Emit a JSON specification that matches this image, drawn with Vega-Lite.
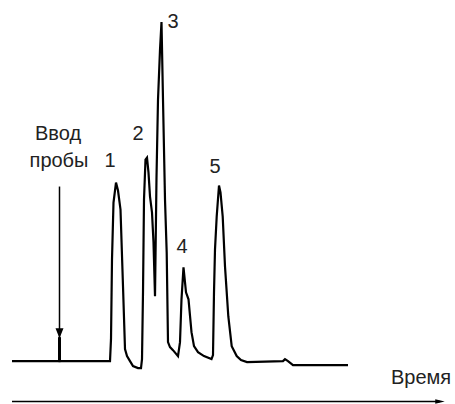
{
  "$schema": "https://vega.github.io/schema/vega-lite/v6.json",
  "width": 455,
  "height": 404,
  "autosize": {"type": "fit", "contains": "padding"},
  "padding": 0,
  "background": "white",
  "config": {"view": {"stroke": null}},
  "datasets": {
    "trace": [
      {"t": 12, "s": 1}, {"t": 60, "s": 1}, {"t": 110, "s": 1},
      {"t": 111, "s": 23}, {"t": 112, "s": 103}, {"t": 113.5, "s": 160}, {"t": 116, "s": 180},
      {"t": 118, "s": 172}, {"t": 120.5, "s": 153}, {"t": 123, "s": 76}, {"t": 125, "s": 13},
      {"t": 127, "s": 6}, {"t": 130, "s": 1}, {"t": 133, "s": -4}, {"t": 138, "s": -6}, {"t": 141, "s": -6},
      {"t": 142, "s": 3}, {"t": 143, "s": 70}, {"t": 144, "s": 163}, {"t": 145.5, "s": 203}, {"t": 147, "s": 205},
      {"t": 148.5, "s": 190}, {"t": 150, "s": 166}, {"t": 152, "s": 150}, {"t": 153.5, "s": 120}, {"t": 155, "s": 66},
      {"t": 156.5, "s": 185}, {"t": 158, "s": 263}, {"t": 160, "s": 313}, {"t": 161.5, "s": 341},
      {"t": 163, "s": 263}, {"t": 165, "s": 163}, {"t": 166.7, "s": 110}, {"t": 168, "s": 20},
      {"t": 170, "s": 15}, {"t": 173, "s": 12}, {"t": 178, "s": 6},
      {"t": 180, "s": 20}, {"t": 181.5, "s": 63}, {"t": 183.5, "s": 95}, {"t": 186, "s": 70},
      {"t": 188.5, "s": 63}, {"t": 191.5, "s": 30}, {"t": 194, "s": 16}, {"t": 198, "s": 10},
      {"t": 204, "s": 6}, {"t": 211.5, "s": 3},
      {"t": 213, "s": 7}, {"t": 214, "s": 70}, {"t": 215, "s": 113}, {"t": 216.7, "s": 146}, {"t": 219, "s": 177},
      {"t": 220.5, "s": 170}, {"t": 222.7, "s": 146}, {"t": 225, "s": 96}, {"t": 228.3, "s": 46},
      {"t": 231.7, "s": 16}, {"t": 236.7, "s": 6}, {"t": 241, "s": 2}, {"t": 247, "s": 0},
      {"t": 283, "s": 1}, {"t": 285, "s": 3}, {"t": 288, "s": 1}, {"t": 293, "s": -3}, {"t": 348, "s": -3}
    ],
    "labels": [
      {"t": 110, "s": 202, "label": "1"},
      {"t": 138, "s": 229, "label": "2"},
      {"t": 173, "s": 341, "label": "3"},
      {"t": 182, "s": 115, "label": "4"},
      {"t": 215, "s": 196, "label": "5"},
      {"t": 58, "s": 229, "label": "Ввод"},
      {"t": 59, "s": 202, "label": "пробы"},
      {"t": 421, "s": -16, "label": "Время"}
    ],
    "injection": [{"t": 59.5, "s0": 176, "s1": 0}],
    "injectionBase": [{"t": 59.5, "s0": 25, "s1": 0}],
    "injectionHead": [{"t": 59.5, "s": 29}],
    "timeAxis": [{"t0": 12, "t1": 440, "s": -39.5}],
    "timeHead": [{"t": 440, "s": -39.5}]
  },
  "layer": [
    {
      "data": {"name": "timeAxis"},
      "mark": {"type": "rule", "color": "black", "strokeWidth": 1.5},
      "encoding": {
        "x": {"field": "t0", "type": "quantitative", "scale": {"domain": [0, 455], "nice": false, "zero": false}, "axis": null},
        "x2": {"field": "t1"},
        "y": {"field": "s", "type": "quantitative", "scale": {"domain": [-41, 363], "nice": false, "zero": false}, "axis": null}
      }
    },
    {
      "data": {"name": "timeHead"},
      "mark": {"type": "point", "shape": "M-1,-0.45L1,0L-1,0.45Z", "filled": true, "color": "black", "size": 90, "opacity": 1},
      "encoding": {
        "x": {"field": "t", "type": "quantitative"},
        "y": {"field": "s", "type": "quantitative"}
      }
    },
    {
      "data": {"name": "injection"},
      "mark": {"type": "rule", "color": "black", "strokeWidth": 1.5},
      "encoding": {
        "x": {"field": "t", "type": "quantitative"},
        "y": {"field": "s0", "type": "quantitative"},
        "y2": {"field": "s1"}
      }
    },
    {
      "data": {"name": "injectionBase"},
      "mark": {"type": "rule", "color": "black", "strokeWidth": 3},
      "encoding": {
        "x": {"field": "t", "type": "quantitative"},
        "y": {"field": "s0", "type": "quantitative"},
        "y2": {"field": "s1"}
      }
    },
    {
      "data": {"name": "injectionHead"},
      "mark": {"type": "point", "shape": "M-0.8,-1L0.8,-1L0,1Z", "filled": true, "color": "black", "size": 100, "opacity": 1},
      "encoding": {
        "x": {"field": "t", "type": "quantitative"},
        "y": {"field": "s", "type": "quantitative"}
      }
    },
    {
      "data": {"name": "trace"},
      "mark": {"type": "line", "color": "black", "strokeWidth": 2.2, "strokeJoin": "miter"},
      "encoding": {
        "x": {"field": "t", "type": "quantitative"},
        "y": {"field": "s", "type": "quantitative"}
      }
    },
    {
      "data": {"name": "labels"},
      "mark": {"type": "text", "font": "Liberation Sans", "fontSize": 20, "color": "#222", "align": "center", "baseline": "middle"},
      "encoding": {
        "x": {"field": "t", "type": "quantitative"},
        "y": {"field": "s", "type": "quantitative"},
        "text": {"field": "label"}
      }
    }
  ]
}
